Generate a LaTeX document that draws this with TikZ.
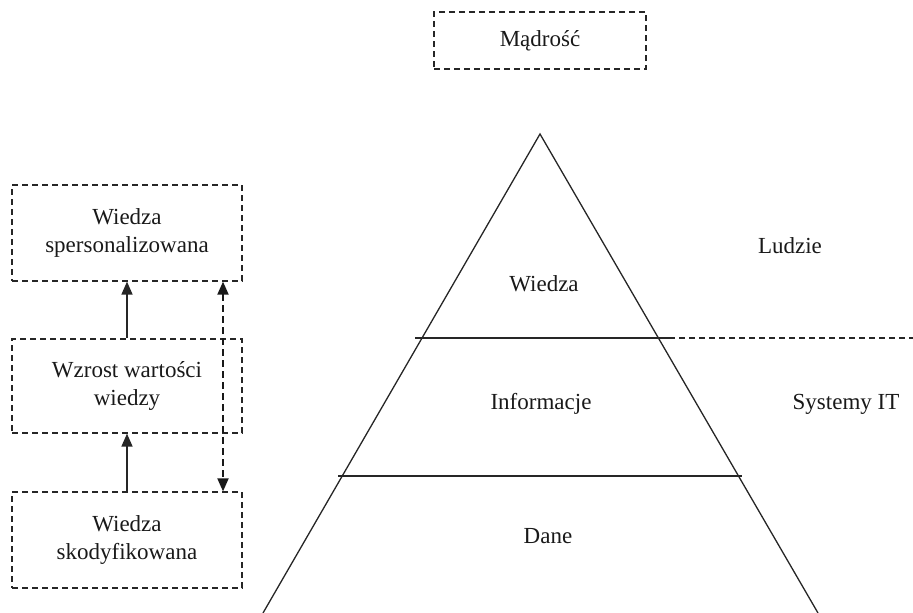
\documentclass[tikz,border=0pt]{standalone}
\usepackage{fontspec}
\setmainfont{Liberation Serif}
\usetikzlibrary{arrows.meta}
\begin{document}
\begin{tikzpicture}[x=1pt,y=-1pt,
  dbox/.style={draw=black!85, line width=1.2pt, dash pattern=on 6pt off 4pt, minimum width=230pt, inner sep=0pt, align=center, font=\fontsize{23}{28}\selectfont, text=black!90},
  lbl/.style={font=\fontsize{23}{28}\selectfont, text=black!90, inner sep=0pt},
  solid line/.style={draw=black!85, line width=1.3pt},
  upar/.style={draw=black!85, line width=1.5pt, -{Triangle[length=13pt,width=11pt]}},
  dblar/.style={draw=black!90, line width=1.8pt, dash pattern=on 7pt off 4pt, {Triangle[length=13pt,width=11pt]}-{Triangle[length=13pt,width=11pt]}}
]
\useasboundingbox (0,0) rectangle (913,613);

% top box
\node[dbox, minimum width=212pt, minimum height=57pt] (mad) at (540,40.5) {Mądrość};

% left boxes
\node[dbox, minimum height=96pt] (b1) at (127,233) {Wiedza\\spersonalizowana};
\node[dbox, minimum height=94pt] (b2) at (127,386) {Wzrost wartości\\wiedzy};
\node[dbox, minimum height=96pt] (b3) at (127,540) {Wiedza\\skodyfikowana};

\draw[upar] (b2.north) -- (b1.south);
\draw[upar] (b3.north) -- (b2.south);
\coordinate (dtop) at (b1.south -| 223,0);
\coordinate (dbot) at (b3.north -| 223,0);
\draw[dblar] (dtop) -- (dbot);

% pyramid
\coordinate (apex) at (540,134);
\coordinate (bl) at (263,613);
\coordinate (br) at (818,613);
\draw[solid line] (bl) -- (apex) -- (br);

\coordinate (l1a) at (415,338);
\coordinate (l1b) at (669,338);
\coordinate (l1c) at (913,338);
\coordinate (l2a) at (338,476);
\coordinate (l2b) at (742,476);
\draw[solid line] (l1a) -- (l1b);
\draw[draw=black!85, line width=1.2pt, dash pattern=on 6pt off 4pt] (l1b) -- (l1c);
\draw[solid line] (l2a) -- (l2b);

% labels
\node[lbl] (wiedza) at (544,284) {Wiedza};
\node[lbl] (info) at (541,404) {Informacje};
\node[lbl] (dane) at (548,536) {Dane};
\node[lbl] (ludzie) at (790,246) {Ludzie};
\node[lbl] (sys) at (846,404) {Systemy IT};
\end{tikzpicture}
\end{document}
